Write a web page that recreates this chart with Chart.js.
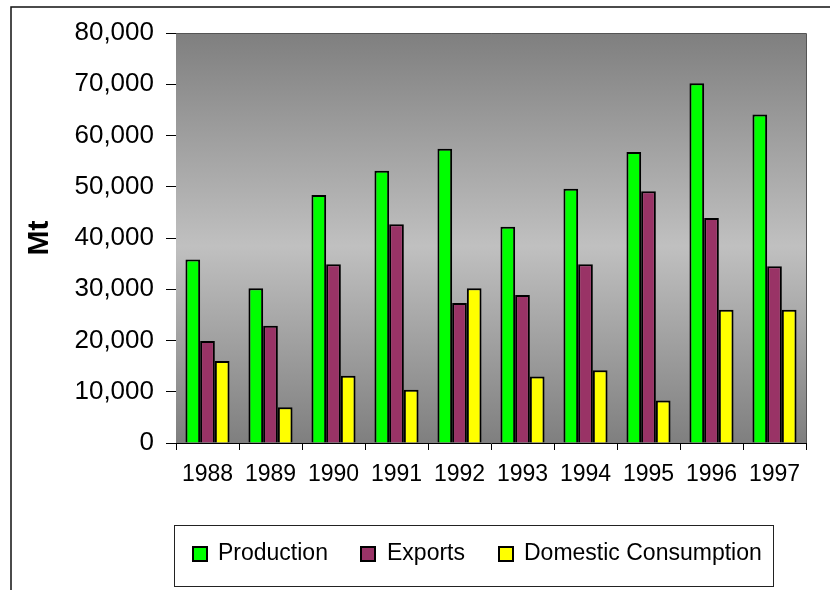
<!DOCTYPE html>
<html>
<head>
<meta charset="utf-8">
<script src="https://cdn.jsdelivr.net/npm/chart.js@4"></script>
<style>
  html, body { margin: 0; padding: 0; background: #fff; }
  #wrap { width: 830px; height: 590px; }
</style>
</head>
<body>
<div id="wrap"><canvas id="chart" width="830" height="590"></canvas></div>
<script>
// values (Mt)
var years = ['1988', '1989', '1990', '1991', '1992', '1993', '1994', '1995', '1996', '1997'];
var production = [35800, 30200, 48400, 53100, 57400, 42200, 49600, 56800, 70200, 64100];
var exports = [19900, 22900, 34900, 42700, 27300, 28900, 34900, 49100, 43900, 34500];
var domestic = [16000, 7000, 13100, 10400, 30200, 13000, 14200, 8300, 26000, 26000];
var yTicks = [0, 10000, 20000, 30000, 40000, 50000, 60000, 70000, 80000];

// gradient behind the bars + frame round the plot and the whole chart
const backdrop = {
  id: 'backdrop',
  beforeDatasetsDraw(chart) {
    const a = chart.chartArea, ctx = chart.ctx;
    const g = ctx.createLinearGradient(0, a.top, 0, a.bottom);
    g.addColorStop(0, '#7f7f7f');
    g.addColorStop(0.52, '#c0c0c0');
    g.addColorStop(1, '#7f7f7f');
    ctx.save();
    ctx.fillStyle = g;
    ctx.fillRect(a.left, a.top, a.right - a.left, a.bottom - a.top);
    ctx.strokeStyle = '#555';
    ctx.lineWidth = 1;
    ctx.beginPath();
    ctx.moveTo(a.left, a.top + 0.5);
    ctx.lineTo(a.right + 0.5, a.top + 0.5);
    ctx.lineTo(a.right + 0.5, a.bottom);
    ctx.stroke();
    ctx.restore();
  },
  afterDraw(chart) {
    const ctx = chart.ctx;
    ctx.save();
    ctx.strokeStyle = '#111';
    ctx.lineWidth = 1.5;
    ctx.beginPath();
    ctx.moveTo(11, 590);
    ctx.lineTo(11, 7);
    ctx.lineTo(830, 7);
    ctx.stroke();

    // boxed legend
    ctx.lineWidth = 1;
    ctx.strokeStyle = '#222';
    ctx.strokeRect(174.5, 525.5, 599, 61);
    const xs = [[193, 218], [361, 387], [499, 524]];
    ctx.font = '23px "Liberation Sans", Arial, sans-serif';
    ctx.textBaseline = 'middle';
    chart.data.datasets.forEach(function (ds, i) {
      ctx.fillStyle = ds.backgroundColor;
      ctx.fillRect(xs[i][0], 547, 14, 14);
      ctx.lineWidth = 2;
      ctx.strokeStyle = '#000';
      ctx.strokeRect(xs[i][0], 547, 14, 14);
      ctx.fillStyle = '#000';
      ctx.fillText(ds.label, xs[i][1], 554);
    });
    ctx.restore();
  }
};

const config = {
  type: 'bar',
  data: {
    labels: years,
    datasets: [
      { label: 'Production', data: production, backgroundColor: '#00ff00' },
      { label: 'Exports', data: exports, backgroundColor: '#993366' },
      { label: 'Domestic Consumption', data: domestic, backgroundColor: '#ffff00' }
    ]
  },
  options: {
    responsive: false,
    animation: false,
    layout: { padding: { left: 0, top: 33, right: 24, bottom: 0 } },
    datasets: {
      bar: { borderColor: '#000', borderWidth: 2, categoryPercentage: 0.7, barPercentage: 1.0 }
    },
    plugins: { legend: { display: false }, tooltip: { enabled: false } },
    scales: {
      x: {
        afterFit: function (s) { s.height = 147; },
        grid: { offset: true, drawOnChartArea: false, drawTicks: true, tickLength: 7, color: '#000' },
        border: { display: true, color: '#000', width: 1 },
        ticks: { color: '#000', padding: 11, font: { family: '"Liberation Sans", Arial', size: 23 } }
      },
      y: {
        min: 0,
        max: 80000,
        afterFit: function (s) { s.width = 176; },
        afterBuildTicks: function (s) { s.ticks = yTicks.map(function (v) { return { value: v }; }); },
        grid: { drawOnChartArea: false, drawTicks: true, tickLength: 10, color: '#000' },
        border: { display: true, color: '#000', width: 1 },
        ticks: {
          color: '#000',
          padding: 12,
          font: { family: '"Liberation Sans", Arial', size: 26 },
          callback: function (v) { return v.toLocaleString('en-US'); }
        },
        title: {
          display: true,
          text: 'Mt',
          color: '#000',
          padding: { top: 22, bottom: 0 },
          font: { family: '"Liberation Sans", Arial', size: 30, weight: 'bold' }
        }
      }
    }
  },
  plugins: [backdrop]
};

new Chart(document.getElementById('chart'), config);
</script>
</body>
</html>
